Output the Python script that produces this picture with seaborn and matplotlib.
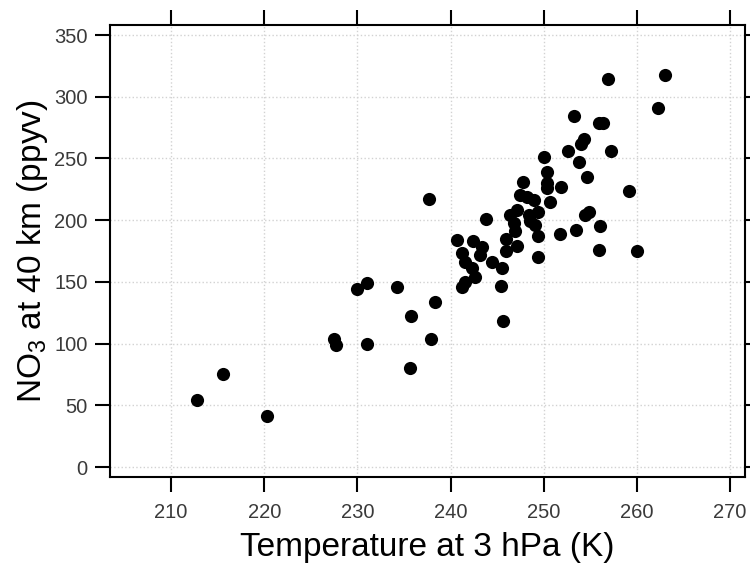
import matplotlib
matplotlib.use("Agg")
import matplotlib.pyplot as plt
import seaborn as sns
import pandas as pd

# temperature at 3 hPa (K)
temp_k = [212.8, 215.6, 220.3, 227.5, 227.7, 230.0, 231.0, 231.0, 234.2, 235.6,
          235.8, 237.9, 238.3, 237.7, 240.7, 242.4, 243.4, 241.2, 241.6, 243.2,
          242.3, 242.6, 241.6, 241.2, 243.8, 244.5, 245.5, 245.4, 245.6, 245.9,
          246.0, 247.1, 246.4, 247.1, 246.8, 246.9, 247.5, 248.2, 249.0, 250.7,
          249.4, 248.4, 248.5, 249.1, 249.4, 247.8, 250.3, 250.3, 250.3, 251.9,
          250.0, 249.4, 251.8, 253.5, 254.4, 254.9, 256.0, 255.9, 260.0, 259.2,
          254.6, 253.8, 252.6, 254.0, 254.3, 257.2, 253.3, 255.9, 256.4, 256.9,
          263.0, 262.3]
# NO3 at 40 km (ppyv)
no3_ppyv = [54, 75, 41, 104, 99, 144, 149, 100, 146, 80,
            122, 104, 134, 217, 184, 183, 178, 173, 166, 172,
            161, 154, 150, 146, 201, 166, 161, 147, 118, 185,
            175, 179, 204, 208, 198, 191, 220, 219, 216, 215,
            207, 204, 199, 196, 187, 231, 239, 230, 226, 227,
            251, 170, 189, 192, 204, 207, 195, 176, 175, 224,
            235, 247, 256, 262, 266, 256, 284, 279, 279, 314,
            318, 291]

x_ticks = [210, 220, 230, 240, 250, 260, 270]
y_ticks = [0, 50, 100, 150, 200, 250, 300, 350]

df = pd.DataFrame({"temp": temp_k, "no3": no3_ppyv})

sns.set_theme(style="white")
plt.rcParams["font.family"] = ["Liberation Sans", "DejaVu Sans"]
plt.rcParams["mathtext.default"] = "regular"

fig = plt.figure(figsize=(7.5, 5.67), dpi=100)
ax = fig.add_axes([0.1467, 0.1587, 0.8466, 0.7972])

sns.scatterplot(data=df, x="temp", y="no3", ax=ax, color="black",
                s=90, linewidth=0, zorder=3)

ax.set_xlim(203.45, 271.6)
ax.set_ylim(-8.1, 358.1)
ax.set_xticks(x_ticks)
ax.set_yticks(y_ticks)

ax.grid(True, color="#d2d2d2", linestyle=":", linewidth=1.0)
for side in ["left", "right", "top", "bottom"]:
    ax.spines[side].set_visible(True)
    ax.spines[side].set_color("black")
    ax.spines[side].set_linewidth(1.5)

ax.tick_params(axis="both", which="major", direction="out", length=11,
               width=1.5, color="black", labelsize=14.5, labelcolor="#3a3a3a",
               top=True, right=True, bottom=True, left=True,
               labeltop=False, labelright=False)
ax.tick_params(axis="x", pad=8)
ax.tick_params(axis="y", pad=5)

ax.set_xlabel("Temperature at 3 hPa (K)", fontsize=24, color="black", labelpad=7)
ax.set_ylabel(r"NO$_3$ at 40 km (ppyv)", fontsize=24, color="black", labelpad=3)

fig.savefig("out.png", dpi=100)
